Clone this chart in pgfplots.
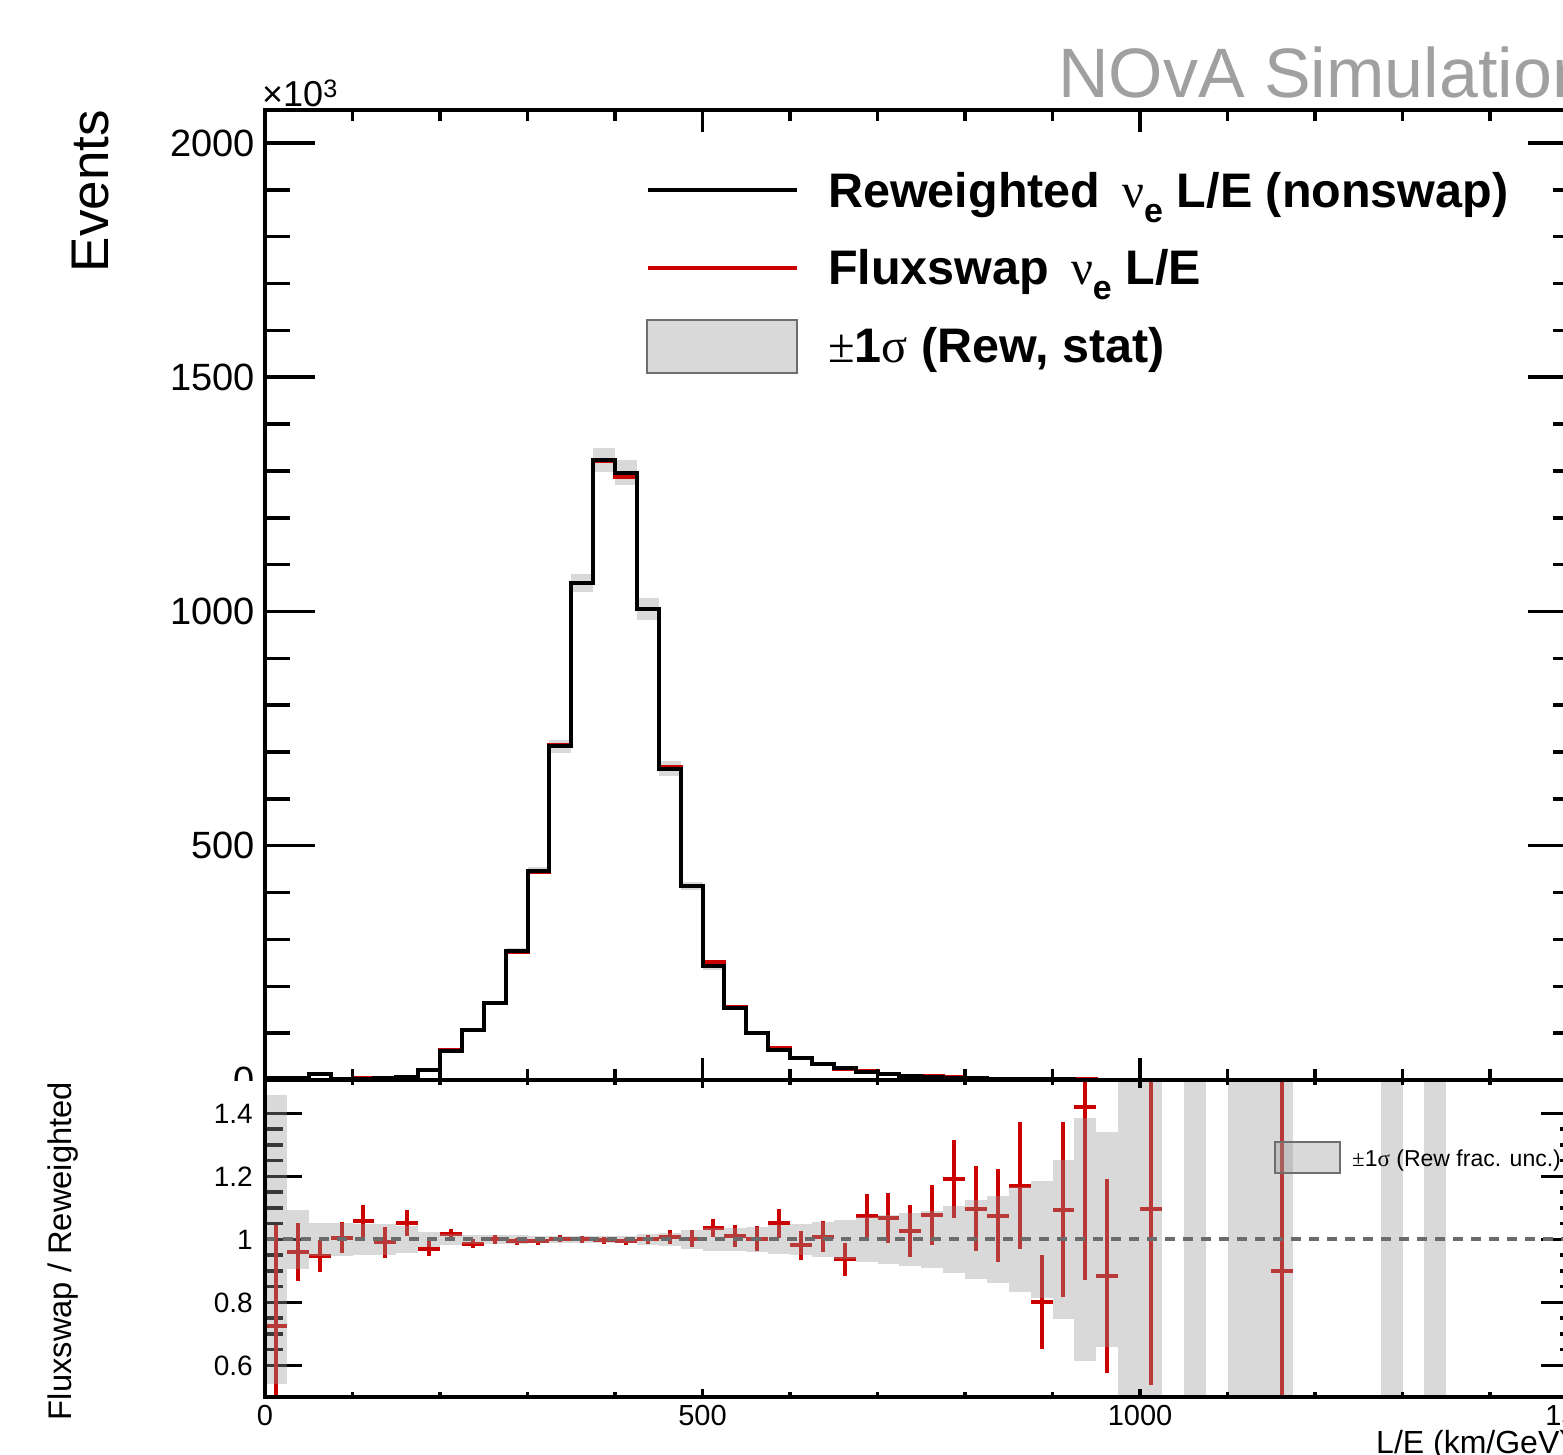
\documentclass[border=0pt]{standalone}
\usepackage{fontspec}
\setmainfont{Liberation Sans}
\newfontfamily\symf{Liberation Serif}
\usepackage{pgfplots}
\pgfplotsset{compat=1.18}
\usepackage{pgfplotstable}

\definecolor{nred}{RGB}{204,0,0}
\definecolor{bandgray}{RGB}{217,217,217}
\definecolor{ratioband}{RGB}{153,153,153}
\definecolor{dashgray}{RGB}{107,107,107}
\definecolor{novagray}{RGB}{160,160,160}
\definecolor{boxedge}{RGB}{110,110,110}

% L/E histograms, bin low edge, values in 10^3 events
\pgfplotstableread{
lo   rw    fs    e
0    4     2.9   1
25   5     4.8   1
50   13    12.3  2
75   3     3     1
100  3     3.2   1
125  4     4     1
150  7     7.4   1
175  21    20.4  2
200  62    63    3
225  107   106   3
250  164   164   4
275  276   274   5
300  447   445   7
325  712   714   13
350  1060  1060  19
375  1323  1321  25
400  1296  1288  27
425  1005  1006  24
450  664   669   16
475  414   415   8
500  243   252   9
525  153   155   4
550  100   100   3
575  65    68    3
600  48    47    2
625  34    34.3  2
650  25    23.4  2
675  17    18.3  1
700  12    12.8  1
725  9     9.2   1
750  7     7.5   1
775  5     6     1
800  3.5   3.8   0.5
825  2.7   2.9   0.5
850  2     2.3   0.5
875  1.5   1.2   0.5
900  1.1   1.2   0.5
925  0.8   1.1   0.3
950  0.6   0.5   0.3
975  0.4   0     0.3
1000 0.3   0.33  0.2
1025 0     0     0
1050 0.15  0     0.1
1075 0     0     0
1100 0.1   0     0.1
1125 0.1   0     0.1
1150 0.1   0.09  0.1
1175 0     0     0
1200 0     0     0
1225 0     0     0
1250 0     0     0
1275 0.05  0     0.05
1300 0     0     0
1325 0.05  0     0.05
1350 0     0     0
1375 0     0     0
1400 0     0     0
1425 0     0     0
1450 0     0     0
1475 0     0     0
1500 0     0     0
}\hist

% ratio fluxswap / reweighted
\pgfplotstableread{
xc     r      re
12.5   0.725  0.32
37.5   0.96   0.092
62.5   0.947  0.051
87.5   1.005  0.049
112.5  1.058  0.05
137.5  0.991  0.05
162.5  1.053  0.042
187.5  0.971  0.023
212.5  1.016  0.016
237.5  0.987  0.014
262.5  1.0    0.013
287.5  0.994  0.012
312.5  0.995  0.011
337.5  1.002  0.011
362.5  1.0    0.011
387.5  0.998  0.011
412.5  0.994  0.012
437.5  1.001  0.014
462.5  1.007  0.022
487.5  1.003  0.027
512.5  1.037  0.029
537.5  1.011  0.034
562.5  1.003  0.04
587.5  1.051  0.045
612.5  0.982  0.046
637.5  1.009  0.049
662.5  0.937  0.052
687.5  1.074  0.069
712.5  1.067  0.079
737.5  1.026  0.083
762.5  1.077  0.096
787.5  1.193  0.124
812.5  1.097  0.135
837.5  1.076  0.149
862.5  1.171  0.202
887.5  0.801  0.150
912.5  1.095  0.277
937.5  1.421  0.551
962.5  0.884  0.307
1012.5 1.097  0.56
1162.5 0.9    0.7
}\ratio

% fractional stat. unc. of reweighted
\pgfplotstableread{
xc     hw
12.5   0.46
37.5   0.095
62.5   0.053
87.5   0.053
112.5  0.048
137.5  0.048
162.5  0.042
187.5  0.024
212.5  0.019
237.5  0.015
262.5  0.014
287.5  0.013
312.5  0.012
337.5  0.012
362.5  0.012
387.5  0.012
412.5  0.012
437.5  0.016
462.5  0.022
487.5  0.029
512.5  0.036
537.5  0.036
562.5  0.041
587.5  0.047
612.5  0.049
637.5  0.056
662.5  0.061
687.5  0.071
712.5  0.078
737.5  0.083
762.5  0.09
787.5  0.105
812.5  0.124
837.5  0.138
862.5  0.168
887.5  0.187
912.5  0.251
937.5  0.385
962.5  0.342
987.5  1
1012.5 1
1062.5 1
1112.5 1
1137.5 1
1162.5 1
1287.5 1
1337.5 1
}\band

\begin{document}
\begin{tikzpicture}[x=1pt,y=1pt]
\pgfplotsset{
  panel/.style={scale only axis, width=1312.5pt, xmin=0, xmax=1500,
    anchor=south west,
    axis line style={line width=3.5pt},
    every tick/.append style={line width=3.5pt, black},
    tick align=inside},
}

% ---- top panel: spectra
\begin{axis}[panel, at={(265pt,374pt)}, height=970pt, ymin=0, ymax=2070.4,
  xtick=\empty,
  ytick={0,500,1000,1500,2000}, yticklabels={0,500,1000,1500,2000},
  minor y tick num=4, major tick length=50pt, minor tick length=25pt,
  yticklabel style={font=\fontsize{38}{44}\selectfont, inner sep=0pt, xshift=-10pt}]
\addplot[draw=none, mark=none, error bars/.cd, y dir=both, y explicit, error mark=none,
  error bar style={draw=bandgray, line width=21.875pt}]
  table[x expr=\thisrow{lo}+12.5, y=rw, y error=e]{\hist};
\addplot[nred, line width=4pt, const plot mark left, mark=none] table[x=lo, y=fs]{\hist};
\addplot[black, line width=4pt, const plot mark left, mark=none] table[x=lo, y=rw]{\hist};
\end{axis}
\begin{axis}[panel, at={(265pt,374pt)}, height=970pt, ymin=0, ymax=2070.4,
  ytick=\empty, xtick={0,500,1000,1500}, xticklabels={,,,},
  minor x tick num=4, major tick length=22pt, minor tick length=11pt]
\end{axis}

% lower pad covers the bottom of the top panel labels
\fill[white] (0,0) rectangle (262,372.5);

% ---- bottom panel: ratio
\begin{axis}[panel, at={(265pt,57pt)}, height=317pt, ymin=0.5, ymax=1.5063,
  xtick=\empty,
  ytick={0.6,0.8,1,1.2,1.4}, yticklabels={0.6,0.8,1,1.2,1.4},
  minor y tick num=3, major tick length=37pt, minor tick length=18pt,
  yticklabel style={font=\fontsize{28}{34}\selectfont, inner sep=0pt, xshift=-12pt}]
\addplot[draw=none, mark=none, error bars/.cd, x dir=both, x fixed=12.5,
  y dir=both, y explicit, error mark=none,
  error bar style={draw=nred, line width=4pt}]
  table[x=xc, y=r, y error=re]{\ratio};
\addplot[draw=none, mark=none, error bars/.cd, y dir=both, y explicit, error mark=none,
  error bar style={draw=ratioband, draw opacity=0.373, line width=21.875pt}]
  table[x=xc, y expr=1, y error=hw]{\band};
\addplot[dashgray, line width=4pt, dash pattern=on 10pt off 8pt, mark=none]
  coordinates {(0,1) (1500,1)};
\end{axis}
\begin{axis}[panel, at={(265pt,57pt)}, height=317pt, ymin=0.5, ymax=1.5063,
  ytick=\empty, xtick={0,500,1000,1500}, xticklabels={0,500,1000,1500},
  minor x tick num=4, major tick length=8pt, minor tick length=5pt,
  xticklabel style={font=\fontsize{29}{35}\selectfont, inner sep=0pt, yshift=-8pt}]
\end{axis}

% ---- legends
\draw[black, line width=4.5pt] (648,1264) -- (797,1264);
\draw[nred, line width=4.5pt] (648,1186) -- (797,1186);
\draw[boxedge, line width=2pt, fill=bandgray] (647,1081) rectangle (797,1134);
\begin{scope}[every node/.style={anchor=base west, inner sep=0pt,
    font=\fontsize{48.5}{56}\selectfont\bfseries}]
\node at (828,1246) {Reweighted\hspace{0.45em}{\symf\mdseries ν}\raisebox{-0.1em}{\textsubscript{e}} L/E (nonswap)};
\node at (828,1169) {Fluxswap\hspace{0.45em}{\symf\mdseries ν}\raisebox{-0.1em}{\textsubscript{e}} L/E};
\node at (828,1091) {{\symf\mdseries ±}1{\symf\mdseries σ} (Rew, stat)};
\end{scope}

\draw[boxedge, line width=2pt, fill=ratioband, fill opacity=0.373] (1275,281) rectangle (1340,312);
\node[anchor=base west, inner sep=0pt, font=\fontsize{23}{27}\selectfont] at (1352,287)
  {{\symf ±}1{\symf σ} (Rew frac. unc.)};

% ---- titles
\node[anchor=base west, inner sep=0pt, text=novagray, font=\fontsize{70}{84}\selectfont]
  at (1058,1356) {NOvA Simulation};
\node[anchor=base west, inner sep=0pt, font=\fontsize{36}{42}\selectfont]
  at (262,1347) {×10\textsuperscript{3}};
\node[rotate=90, anchor=base, inner sep=0pt, font=\fontsize{53}{64}\selectfont]
  at (108,1263) {Events};
\node[rotate=90, anchor=base, inner sep=0pt, font=\fontsize{32.7}{40}\selectfont]
  at (71.5,203) {Fluxswap / Reweighted};
\node[anchor=base west, inner sep=0pt, font=\fontsize{32}{38}\selectfont]
  at (1376,1) {L/E (km/GeV)};

\pgfresetboundingbox
\useasboundingbox (0,0) rectangle (1563,1454);
\end{tikzpicture}
\end{document}
